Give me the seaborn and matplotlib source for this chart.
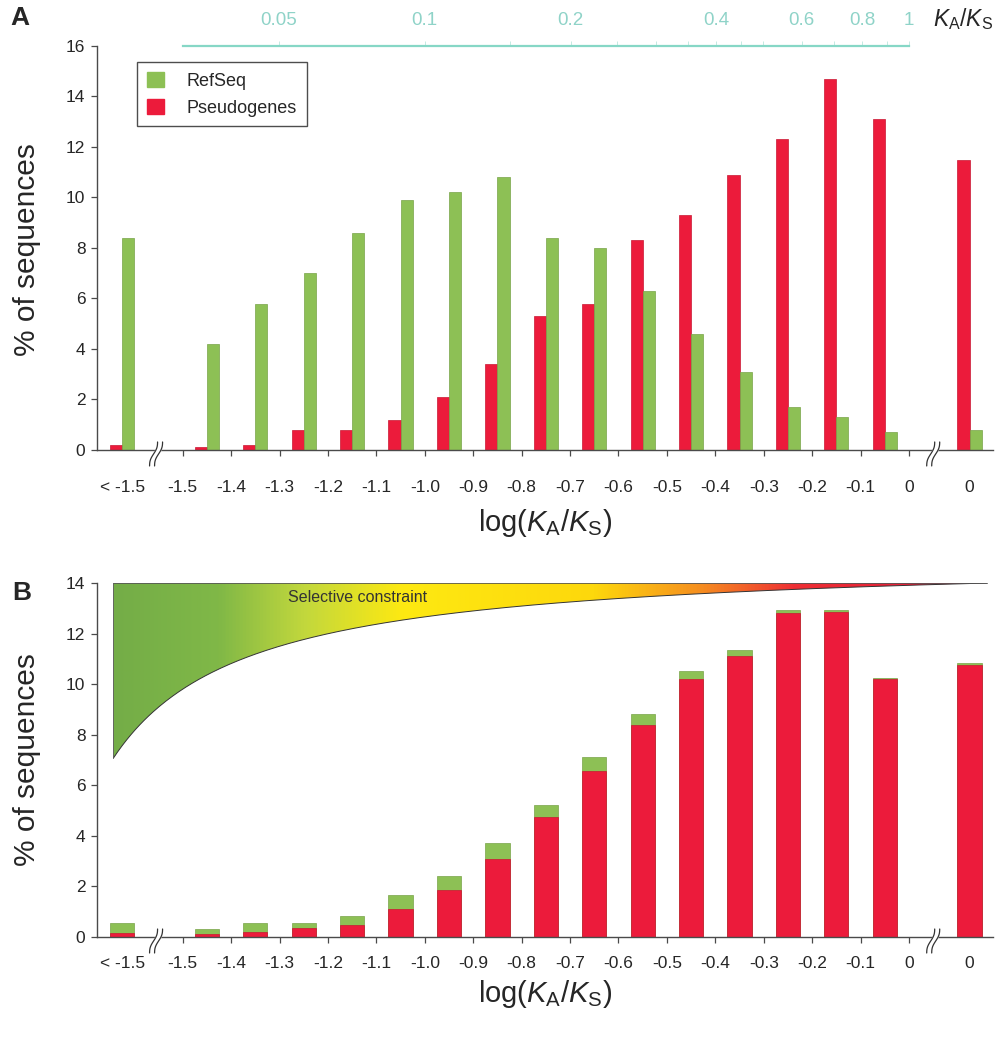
import numpy as np
import pandas as pd
import matplotlib
matplotlib.use("Agg")
import matplotlib.pyplot as plt
import seaborn as sns
from matplotlib.colors import LinearSegmentedColormap
from matplotlib.patches import Polygon, Patch
from matplotlib.transforms import blended_transform_factory

# log(KA/KS) bins: "< -1.5", fifteen 0.1 wide bins from -1.5 to 0, then "> 0" (shown as 0 after the break)
tick_values = [-1.5, -1.4, -1.3, -1.2, -1.1, -1.0, -0.9, -0.8, -0.7, -0.6, -0.5, -0.4, -0.3, -0.2, -0.1, 0.0]
tick_labels = ["-1.5", "-1.4", "-1.3", "-1.2", "-1.1", "-1.0", "-0.9", "-0.8", "-0.7", "-0.6",
               "-0.5", "-0.4", "-0.3", "-0.2", "-0.1", "0"]
low_label = "< -1.5"
high_label = "0"

# panel A: % of sequences in each bin
refseq_A = [8.4, 4.2, 5.8, 7.0, 8.6, 9.9, 10.2, 10.8, 8.4, 8.0, 6.3, 4.6, 3.1, 1.7, 1.3, 0.7, 0.8]
pseudo_A = [0.2, 0.1, 0.2, 0.8, 0.8, 1.2, 2.1, 3.4, 5.3, 5.8, 8.3, 9.3, 10.9, 12.3, 14.7, 13.1, 11.5]

# panel B: stacked bars, pseudogene part at the bottom, refseq part on top
pseudo_B = [0.16, 0.10, 0.20, 0.36, 0.49, 1.10, 1.86, 3.10, 4.76, 6.55, 8.40, 10.20, 11.11, 12.80, 12.84, 10.19, 10.77]
refseq_B = [0.38, 0.23, 0.34, 0.18, 0.34, 0.55, 0.57, 0.63, 0.46, 0.57, 0.43, 0.32, 0.23, 0.12, 0.09, 0.04, 0.05]

# KA/KS scale on top of panel A
ratio_ticks = [0.05, 0.1, 0.2, 0.4, 0.6, 0.8, 1]
ratio_labels = ["0.05", "0.1", "0.2", "0.4", "0.6", "0.8", "1"]
ratio_minor = [0.15, 0.25, 0.3, 0.35, 0.45, 0.5, 0.7, 0.9]

GREEN = "#8dc055"
RED = "#ec1b3b"
TEAL = "#86d7c6"
AXC = "#4a4a4a"

sns.set_theme(style="white")
plt.rcParams["font.family"] = ["Liberation Sans", "DejaVu Sans"]
plt.rcParams["mathtext.fontset"] = "custom"
plt.rcParams["mathtext.rm"] = "Liberation Sans"
plt.rcParams["mathtext.it"] = "Liberation Sans:italic"

# bar positions on the log axis (outer bins sit beyond the axis breaks)
mids = [round((a + b) / 2, 3) for a, b in zip(tick_values[:-1], tick_values[1:])]
low_pos = tick_values[0] - 0.125
high_pos = tick_values[-1] + 0.125
centers = [low_pos] + mids + [high_pos]

dfA = pd.DataFrame({
    "x": centers * 2,
    "pct": pseudo_A + refseq_A,
    "series": ["Pseudogenes"] * len(centers) + ["RefSeq"] * len(centers),
})
dfB = pd.DataFrame({
    "x": centers,
    "red": pseudo_B,
    "total": np.array(pseudo_B) + np.array(refseq_B),
})

fig = plt.figure(figsize=(9.99, 10.38), dpi=100)
axA = fig.add_axes([0.0971, 0.5665, 0.8969, 0.3892])
axB = fig.add_axes([0.0971, 0.0973, 0.8969, 0.3410])

xlim = (-1.677, 0.1735)

sns.barplot(data=dfA, x="x", y="pct", hue="series", hue_order=["Pseudogenes", "RefSeq"],
            palette={"Pseudogenes": RED, "RefSeq": GREEN}, native_scale=True, orient="x",
            width=0.5, saturation=1, errorbar=None, legend=False, ax=axA)

sns.barplot(data=dfB, x="x", y="total", color=GREEN, native_scale=True, orient="x",
            width=0.5, saturation=1, errorbar=None, ax=axB)
sns.barplot(data=dfB, x="x", y="red", color=RED, native_scale=True, orient="x",
            width=0.5, saturation=1, errorbar=None, ax=axB)

for ax in (axA, axB):
    for p in ax.patches:
        fc = np.array(p.get_facecolor())
        p.set_edgecolor(tuple(fc[:3] * 0.85) + (1,))
        p.set_linewidth(0.5)


def draw_break(ax, x, h_px):
    trans = blended_transform_factory(ax.transData, ax.transAxes)
    px = (xlim[1] - xlim[0]) / 896.0
    t = np.linspace(-1, 1, 30)
    ys = t * 12 / h_px - 4 / h_px
    xs = 4 * px * t + 1.2 * px * np.sin(np.pi * t)
    gap = 5 * px
    ax.fill(np.r_[x + xs - gap / 2, (x + xs + gap / 2)[::-1]], np.r_[ys, ys[::-1]],
            color="white", transform=trans, clip_on=False, zorder=5)
    for off in (-gap / 2, gap / 2):
        ax.plot(x + xs + off, ys, color="#333333", lw=0.9, transform=trans, clip_on=False, zorder=6)


for ax, top, h_px, pad_major, pad_minor in ((axA, 16, 404, 17.3, 21.6), (axB, 14, 354, 9.4, 13.7)):
    ax.set_xlim(*xlim)
    ax.set_ylim(0, top)
    ax.set_yticks(np.arange(0, top + 1, 2))
    ax.set_xticks(tick_values)
    ax.set_xticklabels(tick_labels)
    ax.set_xticks([low_pos, high_pos], minor=True)
    ax.set_xticklabels([low_label, high_label], minor=True)
    ax.set_xlabel("")
    ax.set_ylabel("")
    for s in ("top", "right"):
        ax.spines[s].set_visible(False)
    for s in ("left", "bottom"):
        ax.spines[s].set_color(AXC)
        ax.spines[s].set_linewidth(1.0)
    ax.tick_params(axis="x", which="major", direction="out", length=4.3, width=0.9, color=AXC,
                   labelsize=12.5, pad=pad_major, bottom=True)
    ax.tick_params(axis="x", which="minor", length=0, labelsize=12.5, pad=pad_minor, bottom=True)
    ax.tick_params(axis="y", direction="out", length=4.3, width=0.9, color=AXC,
                   labelsize=12.5, pad=4, left=True)
    ax.grid(False)
    draw_break(ax, -1.555, h_px)
    draw_break(ax, 0.05, h_px)

# top KA/KS scale
secax = axA.secondary_xaxis("top", functions=(lambda v: 10 ** v, lambda v: np.log10(np.clip(v, 1e-9, None))))
secax.set_xticks(ratio_ticks)
secax.set_xticklabels(ratio_labels)
secax.set_xticks(ratio_minor, minor=True)
secax.tick_params(which="both", direction="out", length=3.5, width=0.7, color="#c4eae2",
                  labelcolor="#8fd3c8", labelsize=13.5, pad=9)
secax.tick_params(which="minor", labeltop=False)
secax.spines["top"].set_color(TEAL)
secax.spines["top"].set_linewidth(1.6)
secax.spines["top"].set_bounds(10 ** tick_values[0], 10 ** tick_values[-1])
fig.text(933 / 999, 1 - 19 / 1038, r"$K_\mathrm{A}$/$K_\mathrm{S}$", fontsize=16.5, ha="left", va="center")

# legend
handles = [Patch(facecolor=GREEN, edgecolor=GREEN), Patch(facecolor=RED, edgecolor=RED)]
leg = axA.legend(handles, ["RefSeq", "Pseudogenes"], loc="upper left", bbox_to_anchor=(0.045, 0.96),
                 fontsize=13, frameon=True, fancybox=False, handlelength=0.9, handleheight=0.9,
                 handletextpad=1.3, labelspacing=0.5, borderpad=0.55, borderaxespad=0)
leg.get_frame().set_edgecolor("#222222")
leg.get_frame().set_linewidth(1.0)

# selective constraint wedge in panel B
x_start, x_end, x_pole = -1.643, 0.161, -1.919
depth = 6.92
k = depth / (1 / (x_start - x_pole) - 1 / (x_end - x_pole))
xs = np.linspace(x_start, x_end, 400)
lower = 14 - k * (1 / (xs - x_pole) - 1 / (x_end - x_pole))
verts = list(zip(xs, lower)) + [(x_end, 14), (x_start, 14)]
wedge = Polygon(verts, closed=True, transform=axB.transData, facecolor="none", edgecolor="none")
axB.add_patch(wedge)
cmap = LinearSegmentedColormap.from_list("constraint", [
    (0.0, "#74ad47"), (0.12, "#80b847"), (0.22, "#c3d83c"), (0.33, "#fde912"),
    (0.55, "#fdd80c"), (0.67, "#f6901f"), (0.78, "#ee2f34"), (1.0, "#e3183c")])
im = axB.imshow(np.linspace(0, 1, 512)[None, :], extent=[x_start, x_end, lower[0], 14],
                cmap=cmap, aspect="auto", zorder=1)
im.set_clip_path(wedge)
axB.plot(xs, lower, color="#333333", lw=0.7, zorder=2)
axB.plot([x_start, x_end], [14, 14], color="#555555", lw=0.6, zorder=2)
axB.plot([x_start, x_start], [lower[0], 14], color="#555555", lw=0.6, zorder=2)
axB.text(-1.138, 13.44, "Selective constraint", ha="center", va="center", fontsize=11.5, color="#333333")
axB.set_xlim(*xlim)
axB.set_ylim(0, 14)

# axis titles and panel letters
for yc in (250, 760):
    fig.text(27 / 999, 1 - yc / 1038, "% of sequences", rotation=90, ha="center", va="center", fontsize=21.5)
for yc in (523, 994):
    fig.text(545 / 999, 1 - yc / 1038, r"log($K_\mathrm{A}$/$K_\mathrm{S}$)", ha="center", va="center",
             fontsize=21)
fig.text(10 / 999, 1 - 18 / 1038, "A", fontsize=19, fontweight="bold", ha="left", va="center")
fig.text(12 / 999, 1 - 593 / 1038, "B", fontsize=19, fontweight="bold", ha="left", va="center")

fig.savefig("out.png", dpi=100)
